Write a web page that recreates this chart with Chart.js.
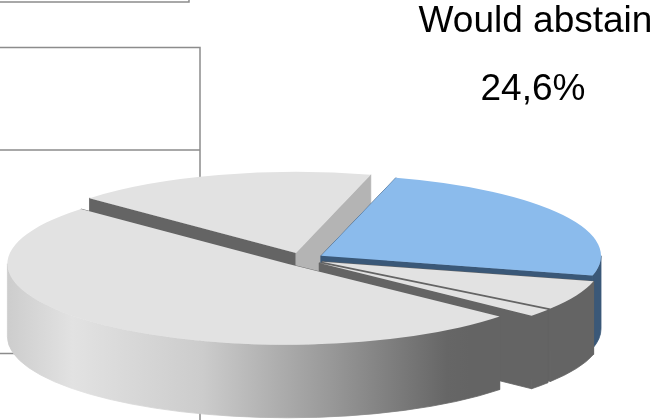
<!DOCTYPE html>
<html>
<head>
<meta charset="utf-8">
<title>Would abstain</title>
<script src="https://cdn.jsdelivr.net/npm/chart.js@4/dist/chart.umd.js"></script>
<style>
    html, body { margin: 0; padding: 0; background: #fff; }
    canvas { display: block; }
</style>
</head>
<body>
<canvas id="pieChart" width="660" height="420"></canvas>
<script>
// Values, only the blue slice is printed on it
const sliceNames = ['Would abstain', 'Other 1', 'Other 2', 'Other 3', 'Other 4'];
const sliceValues = [24.6, 5.9, 1.5, 50.5, 17.5];
const calloutLines = ['Would abstain', '24,6%'];

const topColors = ['#8bbbec', '#e2e2e2', '#e2e2e2', '#e2e2e2', '#e2e2e2'];
const wallColors = ['#3a5878', '#646464', '#646464', null, '#646464'];
const startFaceColors = ['#3a5878', '#646464', '#646464', '#646464', '#646464'];
const endFaceColors = ['#3a5878', '#646464', '#646464', '#646464', '#b4b4b4'];
const gridColor = '#8c8c8c';

// How the flat pie gets tilted
const pieX = 302;
const pieY = 259;
const radiusX = 280;
const radiusY = 81;
const depth = 73;
const explode = 22;

// Slices are painted back to front: index into sliceValues
const paintOrder = [4, 0, 1, 2, 3];

function drawGridLines(ctx) {
    ctx.save();
    ctx.strokeStyle = gridColor;
    ctx.lineWidth = 1.5;
    ctx.beginPath();
    ctx.moveTo(0, 2); ctx.lineTo(189, 2); ctx.lineTo(189, 0);
    ctx.moveTo(0, 47.5); ctx.lineTo(200, 47.5); ctx.lineTo(200, 420);
    ctx.moveTo(0, 150); ctx.lineTo(200, 150);
    ctx.moveTo(0, 353.5); ctx.lineTo(20, 353.5);
    ctx.stroke();
    ctx.restore();
}

function bigWallGradient(ctx) {
    const grad = ctx.createLinearGradient(8, 0, 470, 0);
    grad.addColorStop(0, '#cdcdcd');
    grad.addColorStop(0.14, '#e2e2e2');
    grad.addColorStop(0.42, '#cccccc');
    grad.addColorStop(0.7, '#989898');
    grad.addColorStop(0.95, '#666666');
    grad.addColorStop(1, '#646464');
    return grad;
}

function fillRadialFace(ctx, x, y, angle, color) {
    const rimX = x + Math.cos(angle) * radiusX;
    const rimY = y + Math.sin(angle) * radiusY;
    ctx.fillStyle = color;
    ctx.strokeStyle = color;
    ctx.lineWidth = 0.8;
    ctx.beginPath();
    ctx.moveTo(x, y);
    ctx.lineTo(rimX, rimY);
    ctx.lineTo(rimX, rimY + depth);
    ctx.lineTo(x, y + depth);
    ctx.closePath();
    ctx.fill();
    ctx.stroke();
}

function fillOuterWall(ctx, x, y, start, end, color) {
    // only the part of the rim that faces the viewer (sin > 0)
    const turn = Math.PI * 2;
    for (let k = -1; k <= 1; k++) {
        const from = Math.max(start, turn * k);
        const to = Math.min(end, turn * k + Math.PI);
        if (from >= to) continue;
        ctx.fillStyle = color;
        ctx.strokeStyle = color;
        ctx.lineWidth = 0.8;
        ctx.beginPath();
        ctx.ellipse(x, y, radiusX, radiusY, 0, from, to);
        ctx.ellipse(x, y + depth, radiusX, radiusY, 0, to, from, true);
        ctx.closePath();
        ctx.fill();
        ctx.stroke();
    }
}

const tiltedPie = {
    id: 'tiltedPie',
    beforeDatasetDraw(chart, args) {
        const ctx = chart.ctx;
        const arcs = args.meta.data;

        paintOrder.forEach(i => {
            const arc = arcs[i];
            const mid = (arc.startAngle + arc.endAngle) / 2;
            const x = pieX + Math.cos(mid) * explode;
            const y = pieY + Math.sin(mid) * explode * radiusY / radiusX;

            // sides first, the top face covers what should not show
            fillRadialFace(ctx, x, y, arc.startAngle, startFaceColors[i]);
            fillRadialFace(ctx, x, y, arc.endAngle, endFaceColors[i]);
            const wall = wallColors[i] || bigWallGradient(ctx);
            fillOuterWall(ctx, x, y, arc.startAngle, arc.endAngle, wall);

            // top face is the library's own arc, squashed into place
            ctx.save();
            ctx.translate(x, y);
            ctx.scale(radiusX / arc.outerRadius, radiusY / arc.outerRadius);
            ctx.translate(-arc.x, -arc.y);
            arc.draw(ctx);
            ctx.restore();
        });

        return false;
    },
    afterDraw(chart) {
        const ctx = chart.ctx;
        ctx.save();
        ctx.fillStyle = '#000';
        ctx.font = '37px "Liberation Sans", Arial, sans-serif';
        ctx.textAlign = 'center';
        ctx.fillText(calloutLines[0], 535.5, 32);
        ctx.fillText(calloutLines[1], 533, 100);
        ctx.restore();
    },
    beforeDraw(chart) {
        drawGridLines(chart.ctx);
    }
};

new Chart(document.getElementById('pieChart'), {
    type: 'pie',
    data: {
        labels: sliceNames,
        datasets: [{
            data: sliceValues,
            backgroundColor: topColors,
            borderWidth: 0
        }]
    },
    options: {
        responsive: false,
        animation: false,
        rotation: 15.5,
        plugins: {
            legend: { display: false },
            tooltip: { enabled: false }
        }
    },
    plugins: [tiltedPie]
});
</script>
</body>
</html>
